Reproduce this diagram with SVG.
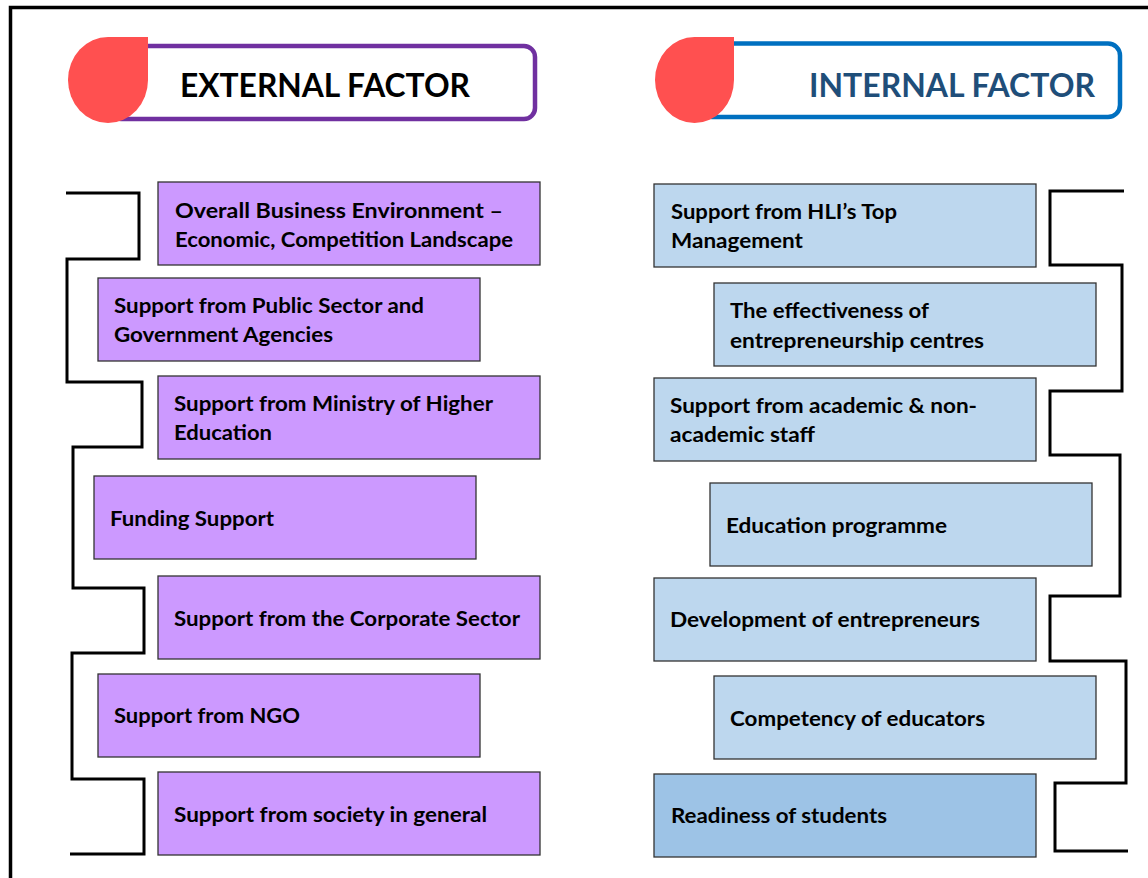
<svg xmlns="http://www.w3.org/2000/svg" width="1148" height="878" viewBox="0 0 1148 878">
  <style>
    .frame { fill: none; stroke: #000; stroke-width: 3.5; }
    .wire { fill: none; stroke: #000; stroke-width: 3; stroke-linejoin: miter; }
    .drop { fill: #FF5050; }
    .ext-head { fill: #fff; stroke: #7030A0; stroke-width: 4.5; }
    .int-head { fill: #fff; stroke: #0070C0; stroke-width: 4.5; }
    .head { font-family: Lato, "Liberation Sans", sans-serif; font-weight: 700; font-size: 33px; }
    .ext-box { fill: #CC99FF; stroke: #333; stroke-width: 1.3; }
    .int-box { fill: #BDD7EE; stroke: #333; stroke-width: 1.3; }
    .int-box.dark { fill: #9DC3E6; }
    .lbl { font-family: Lato, "Liberation Sans", sans-serif; font-weight: 700; font-size: 21.5px; fill: #000; }
  </style>

  <!-- page frame -->
  <path class="frame" d="M10.5,878 V7.5 H1148"/>

  <!-- headers -->
  <g id="external-header">
    <rect class="ext-head" x="110" y="46" width="425" height="73" rx="11"/>
    <path class="drop" d="M148,37 V80 A40,43 0 1 1 108,37 Z"/>
    <text class="head" x="180" y="97" textLength="290" lengthAdjust="spacingAndGlyphs" fill="#000">EXTERNAL FACTOR</text>
  </g>
  <g id="internal-header">
    <rect class="int-head" x="700" y="43.5" width="420" height="73.5" rx="12"/>
    <path class="drop" d="M734,37 V80 A39.5,43 0 1 1 694.5,37 Z"/>
    <text class="head" x="809" y="97" textLength="286" lengthAdjust="spacingAndGlyphs" fill="#1F4E79">INTERNAL FACTOR</text>
  </g>

  <!-- connectors -->
  <g id="connectors">
    <path class="wire" d="M66,193 H139 V259 H67 V382 H142 V447 H73 V588 H144 V653 H72 V779 H144 V854 H70"/>
    <path class="wire" d="M1124,191 H1050 V265 H1122 V391 H1050 V455 H1120 V596 H1050 V661 H1126 V783 H1055 V851 H1128"/>
  </g>

  <!-- external factors -->
  <g id="ext-1">
    <rect class="ext-box" x="158" y="182" width="382" height="83"/>
    <text class="lbl" x="175" y="218" textLength="328" lengthAdjust="spacingAndGlyphs">Overall Business Environment –</text>
    <text class="lbl" x="175" y="247" textLength="338" lengthAdjust="spacingAndGlyphs">Economic, Competition Landscape</text>
  </g>
  <g id="ext-2">
    <rect class="ext-box" x="98" y="278" width="382" height="83"/>
    <text class="lbl" x="114" y="313" textLength="310" lengthAdjust="spacingAndGlyphs">Support from Public Sector and</text>
    <text class="lbl" x="114" y="342" textLength="219" lengthAdjust="spacingAndGlyphs">Government Agencies</text>
  </g>
  <g id="ext-3">
    <rect class="ext-box" x="158" y="376" width="382" height="83"/>
    <text class="lbl" x="174" y="411" textLength="319" lengthAdjust="spacingAndGlyphs">Support from Ministry of Higher</text>
    <text class="lbl" x="174" y="440" textLength="98" lengthAdjust="spacingAndGlyphs">Education</text>
  </g>
  <g id="ext-4">
    <rect class="ext-box" x="94" y="476" width="382" height="83"/>
    <text class="lbl" x="110" y="526" textLength="164" lengthAdjust="spacingAndGlyphs">Funding Support</text>
  </g>
  <g id="ext-5">
    <rect class="ext-box" x="158" y="576" width="382" height="83"/>
    <text class="lbl" x="174" y="626" textLength="346" lengthAdjust="spacingAndGlyphs">Support from the Corporate Sector</text>
  </g>
  <g id="ext-6">
    <rect class="ext-box" x="98" y="674" width="382" height="83"/>
    <text class="lbl" x="114" y="723" textLength="186" lengthAdjust="spacingAndGlyphs">Support from NGO</text>
  </g>
  <g id="ext-7">
    <rect class="ext-box" x="158" y="772" width="382" height="83"/>
    <text class="lbl" x="174" y="822" textLength="313" lengthAdjust="spacingAndGlyphs">Support from society in general</text>
  </g>

  <!-- internal factors -->
  <g id="int-1">
    <rect class="int-box" x="654" y="184" width="382" height="83"/>
    <text class="lbl" x="671" y="219" textLength="226" lengthAdjust="spacingAndGlyphs">Support from HLI’s Top</text>
    <text class="lbl" x="671" y="248" textLength="132" lengthAdjust="spacingAndGlyphs">Management</text>
  </g>
  <g id="int-2">
    <rect class="int-box" x="714" y="283" width="382" height="83"/>
    <text class="lbl" x="730" y="317.5" textLength="199" lengthAdjust="spacingAndGlyphs">The effectiveness of</text>
    <text class="lbl" x="730" y="347.5" textLength="254" lengthAdjust="spacingAndGlyphs">entrepreneurship centres</text>
  </g>
  <g id="int-3">
    <rect class="int-box" x="654" y="378" width="382" height="83"/>
    <text class="lbl" x="670" y="412.5" textLength="307" lengthAdjust="spacingAndGlyphs">Support from academic &amp; non-</text>
    <text class="lbl" x="670" y="441.5" textLength="145" lengthAdjust="spacingAndGlyphs">academic staff</text>
  </g>
  <g id="int-4">
    <rect class="int-box" x="710" y="483" width="382" height="83"/>
    <text class="lbl" x="726" y="532.5" textLength="221" lengthAdjust="spacingAndGlyphs">Education programme</text>
  </g>
  <g id="int-5">
    <rect class="int-box" x="654" y="578" width="382" height="83"/>
    <text class="lbl" x="670" y="626.5" textLength="310" lengthAdjust="spacingAndGlyphs">Development of entrepreneurs</text>
  </g>
  <g id="int-6">
    <rect class="int-box" x="714" y="676" width="382" height="83"/>
    <text class="lbl" x="730" y="725.5" textLength="255" lengthAdjust="spacingAndGlyphs">Competency of educators</text>
  </g>
  <g id="int-7">
    <rect class="int-box dark" x="654" y="774" width="382" height="83"/>
    <text class="lbl" x="671" y="823" textLength="216" lengthAdjust="spacingAndGlyphs">Readiness of students</text>
  </g>
</svg>
